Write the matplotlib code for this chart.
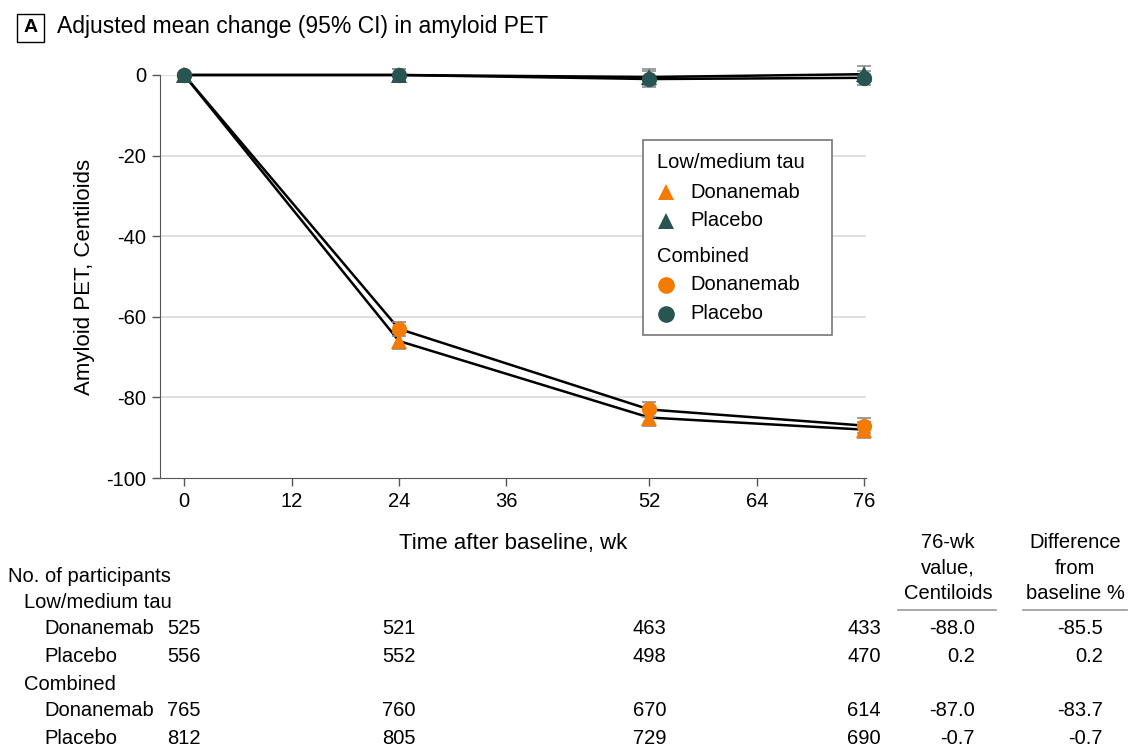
import numpy as np
import matplotlib.pyplot as plt
from matplotlib.lines import Line2D
from matplotlib.patches import Rectangle
from matplotlib import transforms

plt.rcParams['font.family'] = ['Liberation Sans Narrow', 'Liberation Sans', 'DejaVu Sans']

# data
weeks = [0, 24, 52, 76]
tau_don = [0, -66, -85, -88]
tau_don_ci = [0.5, 2.0, 2.0, 2.0]
tau_pbo = [0, 0, -0.5, 0.2]
tau_pbo_ci = [0.5, 1.5, 2.0, 2.0]
comb_don = [0, -63, -83, -87]
comb_don_ci = [0.5, 1.8, 1.8, 1.8]
comb_pbo = [0, 0, -1.0, -0.7]
comb_pbo_ci = [0.5, 1.5, 2.0, 1.8]

xticks = [0, 12, 24, 36, 52, 64, 76]
yticks = [0, -20, -40, -60, -80, -100]

row_labels = ['Donanemab', 'Placebo', 'Donanemab', 'Placebo']
n_tau_don = [525, 521, 463, 433]
n_tau_pbo = [556, 552, 498, 470]
n_comb_don = [765, 760, 670, 614]
n_comb_pbo = [812, 805, 729, 690]
val76 = ['-88.0', '0.2', '-87.0', '-0.7']
diff_pct = ['-85.5', '0.2', '-83.7', '-0.7']

orange = '#F47B00'
teal = '#285552'
gray_ci = '#8c8c8c'
fs = 14.5

fig = plt.figure(figsize=(11.28, 7.49), dpi=100)
ax = fig.add_axes([160/1128, 1 - 478/749, (866 - 160)/1128, (478 - 75)/749])

for y in yticks[:-1]:
    ax.axhline(y, color='#d9d9d9', lw=1.2, zorder=0)

series = [(tau_don, tau_don_ci, orange, '^'),
          (comb_don, comb_don_ci, orange, 'o'),
          (tau_pbo, tau_pbo_ci, teal, '^'),
          (comb_pbo, comb_pbo_ci, teal, 'o')]
for yv, ci, c, m in series:
    ax.plot(weeks, yv, color='black', lw=1.8, zorder=2, clip_on=False)
for yv, ci, c, m in series:
    ax.errorbar(weeks, yv, yerr=ci, fmt='none', ecolor=gray_ci, elinewidth=1,
                capsize=5, capthick=1.2, zorder=3, clip_on=False)
    ax.plot(weeks, yv, linestyle='none', marker=m, ms=11, color=c,
            markeredgewidth=0, zorder=4, clip_on=False)

ax.set_xlim(-2.7, 76.2)
ax.set_ylim(-100, 0)
ax.set_xticks(xticks)
ax.set_yticks(yticks)
ax.set_yticklabels([str(t) if t == 0 else '-%d' % abs(t) for t in yticks])
ax.tick_params(labelsize=fs, length=6, width=1, color='#555555', pad=4)
ax.spines['top'].set_visible(False)
ax.spines['right'].set_visible(False)
ax.spines['left'].set_color('#555555')
ax.spines['bottom'].set_color('#555555')
ax.set_xlabel('Time after baseline, wk', fontsize=16, labelpad=16)
ax.set_ylabel('Amyloid PET, Centiloids', fontsize=16, labelpad=8)

# legend drawn by hand
lx0, ly0 = 643/1128, 1 - 335/749
fig.add_artist(Rectangle((lx0, ly0), (832 - 643)/1128, (335 - 140)/749,
                         transform=fig.transFigure, facecolor='white',
                         edgecolor='#777777', lw=1.2, zorder=5))
leg_rows = [('Low/medium tau', None, None, 163),
            ('Donanemab', orange, '^', 192),
            ('Placebo', teal, '^', 221),
            ('Combined', None, None, 256),
            ('Donanemab', orange, 'o', 285),
            ('Placebo', teal, 'o', 314)]
for lab, c, m, py in leg_rows:
    fy = 1 - py/749
    if c is None:
        fig.text(657/1128, fy, lab, fontsize=fs, va='center', ha='left', zorder=6)
    else:
        fig.add_artist(Line2D([666/1128], [fy], transform=fig.transFigure,
                              marker=m, ms=12, color=c, linestyle='none',
                              markeredgewidth=0, zorder=6))
        fig.text(690/1128, fy, lab, fontsize=fs, va='center', ha='left', zorder=6)

# panel title
fig.add_artist(Rectangle((17/1128, 1 - 42/749), 27/1128, 28/749,
                         transform=fig.transFigure, facecolor='white',
                         edgecolor='black', lw=1))
fig.text(30.5/1128, 1 - 28/749, 'A', fontsize=14, fontweight='bold',
         ha='center', va='center')
fig.text(57/1128, 1 - 27/749, 'Adjusted mean change (95% CI) in amyloid PET',
         fontsize=16.5, ha='left', va='center')

# number-at-risk table
fig.text(8/1128, 1 - 577/749, 'No. of participants', fontsize=fs, va='center')
fig.text(24/1128, 1 - 602/749, 'Low/medium tau', fontsize=fs, va='center')
fig.text(24/1128, 1 - 684/749, 'Combined', fontsize=fs, va='center')
trans = transforms.blended_transform_factory(ax.transData, fig.transFigure)
rows_y = [629, 657, 711, 738]
counts = [n_tau_don, n_tau_pbo, n_comb_don, n_comb_pbo]
for lab, py, nn, v, d in zip(row_labels, rows_y, counts, val76, diff_pct):
    fy = 1 - py/749
    fig.text(44/1128, fy, lab, fontsize=fs, va='center')
    for w, n in zip(weeks, nn):
        ax.text(w, fy, str(n), transform=trans, fontsize=fs, ha='center',
                va='center', clip_on=False)
    fig.text(975/1128, fy, v, fontsize=fs, ha='right', va='center')
    fig.text(1103/1128, fy, d, fontsize=fs, ha='right', va='center')

fig.text(948/1128, 1 - 568/749, '76-wk\nvalue,\nCentiloids', fontsize=fs,
         ha='center', va='center', linespacing=1.45)
fig.text(1075/1128, 1 - 568/749, 'Difference\nfrom\nbaseline %', fontsize=fs,
         ha='center', va='center', linespacing=1.45)
fig.add_artist(Line2D([898/1128, 996/1128], [1 - 610/749] * 2,
                      transform=fig.transFigure, color='#999999', lw=1.2))
fig.add_artist(Line2D([1023/1128, 1127/1128], [1 - 610/749] * 2,
                      transform=fig.transFigure, color='#999999', lw=1.2))

fig.savefig('out.png', dpi=100)
